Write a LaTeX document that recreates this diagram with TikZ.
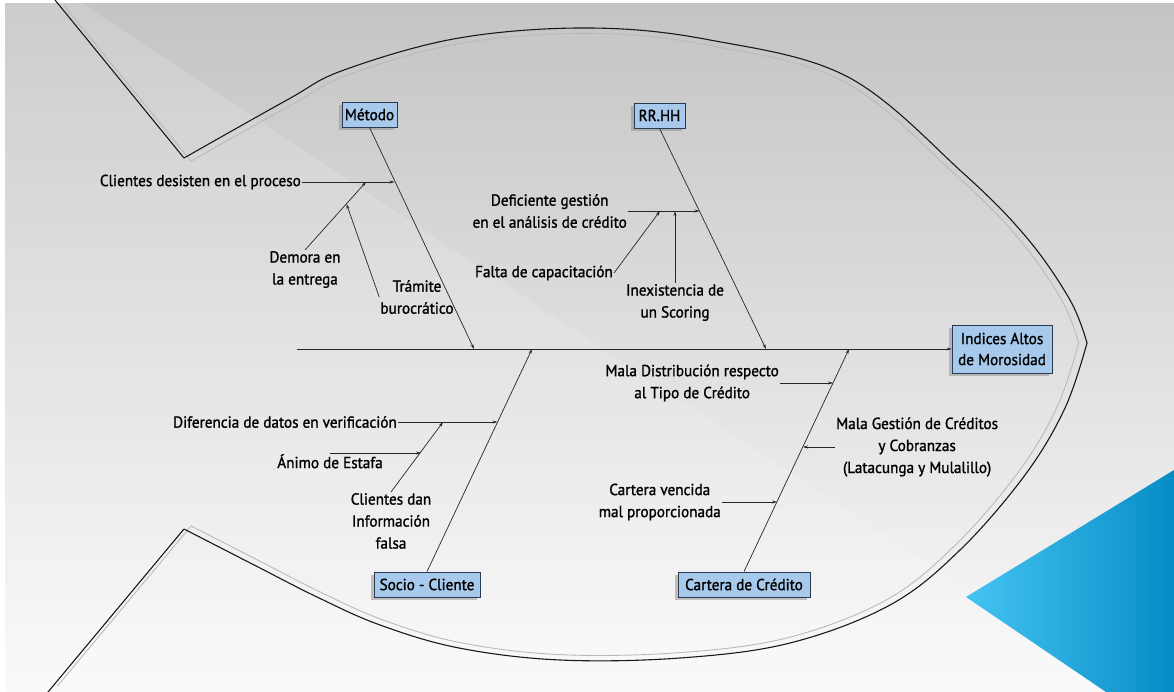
\documentclass[tikz,border=0pt]{standalone}
\usepackage{fontspec}
\setmainfont{PT Sans}[FakeStretch=0.95, FakeBold=1.3]
\usetikzlibrary{arrows.meta,shadows,calc}
\definecolor{boxblue}{HTML}{A7CAEC}
\definecolor{boxline}{HTML}{2A3A50}
\definecolor{bgtop}{HTML}{C4C4C4}
\definecolor{bgbot}{HTML}{FAFAFA}
\definecolor{fishgray}{HTML}{B4BCBC}
\definecolor{triL}{HTML}{45C4F2}
\definecolor{triR}{HTML}{078CC6}
\begin{document}
\begin{tikzpicture}[x=1pt,y=-1pt,
  font=\fontsize{16}{22}\selectfont,
  lbl/.style={inner sep=1pt, align=center, text=black},
  cbox/.style={draw=boxline, fill=boxblue, line width=0.8pt, inner sep=2pt,
    minimum height=25pt, align=center,
    drop shadow={shadow xshift=-3pt, shadow yshift=-3pt, fill=black!45, opacity=0.5}},
  bone/.style={line width=0.7pt, draw=black!85, -{Stealth[length=5pt,width=3pt]}},
  fish/.style={line width=1.1pt, draw=black!90},
  fishsh/.style={line width=0.9pt, draw=fishgray}]
\useasboundingbox (0,0) rectangle (1174,692);
% background
\shade[top color=bgtop, bottom color=bgbot] (0,0) rectangle (1174,692);
\fill[white, opacity=0.14] (77,0) -- (600,347) -- (1123,692) -- (0,692) -- (0,0) -- cycle;
\fill[white] (0,0) rectangle (1174,3);
\fill[white] (0,0) rectangle (5,692);
% blue triangle
\shade[left color=triL, right color=triR] (966,597) -- (1174,470) -- (1174,692) -- (1106,692) -- cycle;
% fish outline shadow
\begin{scope}[shift={(600,345)}, scale=0.983, shift={(-600,-345)}]
\draw[fishsh] (55,0) -- (184,158);
\draw[fishsh] plot[smooth, tension=0.6] coordinates {(184,158) (287,100) (344,70) (459,38) (590,28) (710,40) (848,77) (963,173) (1027,238) (1070,300) (1087,343)};
\draw[fishsh] plot[smooth, tension=0.6] coordinates {(1087,343) (1065,408) (1025,475) (960,550) (890,605) (790,643) (680,658) (560,660) (459,648) (380,625) (317,597) (260,568) (184,529)};
\draw[fishsh] (184,529) -- (48,692);
\end{scope}
% fish outline
\draw[fish] (55,0) -- (184,158);
\draw[fish] plot[smooth, tension=0.6] coordinates {(184,158) (287,100) (344,70) (459,38) (590,28) (710,40) (848,77) (963,173) (1027,238) (1070,300) (1087,343)};
\draw[fish] plot[smooth, tension=0.6] coordinates {(1087,343) (1065,408) (1025,475) (960,550) (890,605) (790,643) (680,658) (560,660) (459,648) (380,625) (317,597) (260,568) (184,529)};
\draw[fish] (184,529) -- (48,692);

% boxes
\node[cbox, minimum width=55pt] (met) at (369.5,114.5) {Método};
\node[cbox, minimum width=51pt] (rrhh) at (659.5,115.5) {RR.HH};
\node[cbox, minimum width=106pt] (soc) at (427,584.5) {Socio - Cliente};
\node[cbox, minimum width=132pt] (car) at (744,584.5) {Cartera de Crédito};
\node[cbox, minimum width=100pt, minimum height=48pt, font=\fontsize{16}{21}\selectfont] (ind) at (1002,349) {Indices Altos\\de Morosidad};

% spine
\coordinate (sp0) at (297,349);
\draw[bone] (sp0) -- (ind.west);

% joints on spine
\coordinate (jm) at (474,349);
\coordinate (jr) at (766,349);
\coordinate (js) at (532,349);
\coordinate (jc) at (849,349);
\draw[bone] (met.south) -- (jm);
\draw[bone] (rrhh.south) -- (jr);
\draw[bone] (soc.north) -- (js);
\draw[bone] (car.north) -- (jc);

% Metodo causes
\node[lbl, anchor=east] (cdp) at (302,182) {Clientes desisten en el proceso};
\coordinate (m1) at (394.5,182);
\draw[bone] (cdp.east) -- (m1);
\node[lbl, anchor=north] (dem) at (305,250) {Demora en\\la entrega};
\coordinate (m2) at (366,182);
\draw[bone] (dem.north) -- (m2);
\node[lbl] (tra) at (417,297) {Trámite\\burocrático};
\coordinate (m3) at (346.5,204);
\draw[bone] (tra.west) -- (m3);

% RRHH causes
\node[lbl, anchor=east] (def) at (628,211) {Deficiente gestión\\en el análisis de crédito};
\coordinate (r1) at (699.5,211);
\draw[bone] (def.east) -- (r1);
\node[lbl, anchor=east] (fal) at (614,273) {Falta de capacitación};
\coordinate (r2) at (660,211);
\draw[bone] (fal.east) -- (r2);
\node[lbl, anchor=north] (inx) at (675,283) {Inexistencia de\\un Scoring};
\coordinate (r3) at (675,211);
\draw[bone] (inx.north) -- (r3);

% Socio causes
\node[lbl, anchor=east] (dif) at (398,422) {Diferencia de datos en verificación};
\coordinate (s1) at (497.5,422);
\draw[bone] (dif.east) -- (s1);
\node[lbl, anchor=north] (cdi) at (391,492) {Clientes dan\\Información\\falsa};
\coordinate (s2) at (443,422);
\draw[bone] (cdi.north) -- (s2);
\node[lbl, anchor=north] (ani) at (330,453) {Ánimo de Estafa};
\coordinate (s3) at (421,451);
\draw[bone] (ani.north) -- (s3 |- ani.north);

% Cartera causes
\node[lbl, anchor=east] (mdr) at (780,383) {Mala Distribución respecto\\al Tipo de Crédito};
\coordinate (c1) at (833,383);
\draw[bone] (mdr.east) -- (c1);
\node[lbl, anchor=west] (mgc) at (835,447) {Mala Gestión de Créditos\\y Cobranzas\\(Latacunga y Mulalillo)};
\coordinate (c2) at (803,447);
\draw[bone] (mgc.west) -- (c2);
\node[lbl, anchor=east] (cvm) at (722,502) {Cartera vencida\\mal proporcionada};
\coordinate (c3) at (777,502);
\draw[bone] (cvm.east) -- (c3);
\end{tikzpicture}
\end{document}
